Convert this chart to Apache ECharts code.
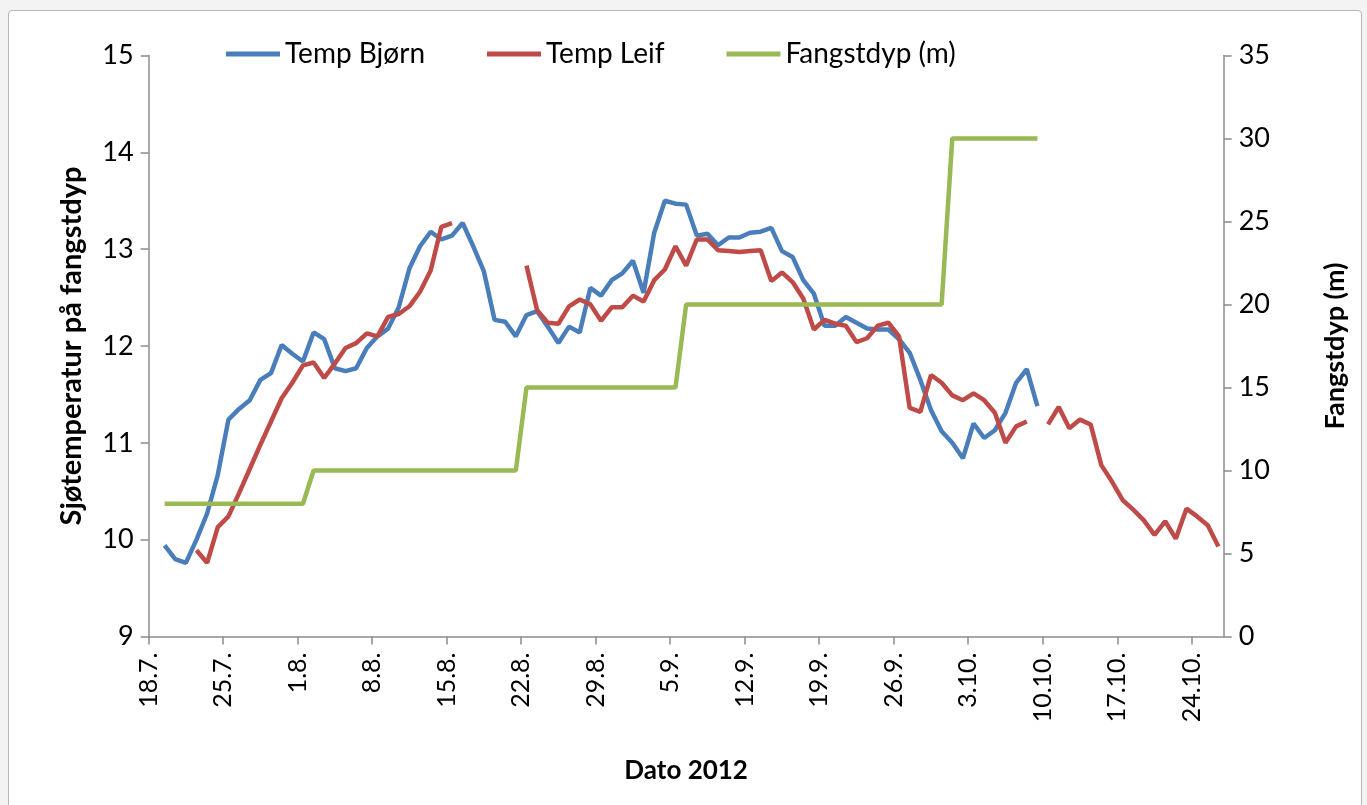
<!DOCTYPE html>
<html>
<head>
<meta charset="utf-8">
<script src="https://cdn.jsdelivr.net/npm/echarts@6/dist/echarts.min.js"></script>
<style>
  html, body { margin: 0; padding: 0; background: #f3f3f3; }
  .frame {
    position: absolute; left: 8px; top: 10px; width: 1352px; height: 810px;
    background: #fff; border: 1px solid #b8b8b8; border-radius: 4px;
  }
  #chart { position: absolute; left: 0; top: 0; width: 1367px; height: 805px; }
</style>
</head>
<body>
<div class="frame"></div>
<div id="chart"></div>
<script>
// day 0 = 18.7.2012, one value per day
var startDate = [2012, 6, 18]
var dayCount = 101
var tickDays = [0, 7, 14, 21, 28, 35, 42, 49, 56, 63, 70, 77, 84, 91, 98]

var tempBjorn = [null,
  9.94, 9.80, 9.76, 10.00, 10.27, 10.67, 11.24, 11.35, 11.44, 11.65,
  11.72, 12.01, 11.92, 11.84, 12.14, 12.07, 11.77, 11.74, 11.77, 11.98,
  12.10, 12.18, 12.40, 12.80, 13.03, 13.18, 13.10, 13.14, 13.27, 13.03,
  12.77, 12.27, 12.25, 12.10, 12.32, 12.36, 12.20, 12.03, 12.20, 12.14,
  12.60, 12.52, 12.68, 12.75, 12.88, 12.55, 13.17, 13.50, 13.47, 13.46,
  13.14, 13.16, 13.04, 13.12, 13.12, 13.17, 13.18, 13.22, 12.98, 12.92,
  12.68, 12.54, 12.21, 12.21, 12.30, 12.24, 12.18, 12.17, 12.17, 12.07,
  11.93, 11.65, 11.34, 11.12, 11.00, 10.84, 11.20, 11.05, 11.13, 11.31,
  11.62, 11.76, 11.38]

var tempLeif = [null, null, null, null,
  9.89, 9.76, 10.13, 10.24, 10.48, 10.73, 10.98, 11.22, 11.46, 11.62, 11.80,
  11.83, 11.67, 11.82, 11.98, 12.03, 12.13, 12.10, 12.30, 12.33, 12.41,
  12.56, 12.78, 13.23, 13.27, null, null, null, null, null, null,
  12.83, 12.37, 12.24, 12.23, 12.41, 12.48, 12.43, 12.26, 12.40, 12.40,
  12.52, 12.46, 12.68, 12.79, 13.03, 12.83, 13.10, 13.10, 12.99, 12.98,
  12.97, 12.98, 12.99, 12.67, 12.76, 12.66, 12.49, 12.17, 12.27, 12.23,
  12.21, 12.04, 12.08, 12.21, 12.24, 12.10, 11.36, 11.32, 11.70, 11.62,
  11.49, 11.44, 11.51, 11.44, 11.31, 11.00, 11.17, 11.22, null, 11.19,
  11.37, 11.15, 11.24, 11.19, 10.77, 10.60, 10.41, 10.31, 10.20, 10.05,
  10.19, 10.01, 10.32, 10.24, 10.15, 9.93]

var fangstdyp = [null,
  8, 8, 8, 8, 8, 8, 8, 8, 8, 8, 8, 8, 8, 8,
  10, 10, 10, 10, 10, 10, 10, 10, 10, 10, 10, 10, 10, 10, 10, 10, 10, 10, 10, 10,
  15, 15, 15, 15, 15, 15, 15, 15, 15, 15, 15, 15, 15, 15, 15,
  20, 20, 20, 20, 20, 20, 20, 20, 20, 20, 20, 20, 20, 20, 20, 20, 20, 20, 20, 20, 20, 20, 20, 20, 20,
  30, 30, 30, 30, 30, 30, 30, 30, 30]

var seriesNames = ['Temp Bjørn', 'Temp Leif', 'Fangstdyp (m)']
var colors = ['#4a7ebb', '#be4b48', '#98b954']

function dayLabel(v) {
  var d = new Date(startDate[0], startDate[1], startDate[2] + v)
  return d.getDate() + '.' + (d.getMonth() + 1) + '.'
}

// each day's point sits in the middle of its day slot
function toPoints(arr) {
  return arr.map(function (v, i) { return [i + 0.5, v] })
}

var font = 'Lato, "Open Sans", sans-serif'
var axisColor = '#8c8c8c'

var chart = echarts.init(document.getElementById('chart'))
chart.setOption({
  animation: false,
  textStyle: { fontFamily: font },
  grid: { left: 148.6, right: 143.3, top: 55.5, bottom: 168.5 },
  legend: {
    left: 221,
    top: 35,
    itemWidth: 54,
    itemHeight: 5,
    itemGap: 62,
    icon: 'rect',
    textStyle: { fontSize: 28, color: '#000', fontFamily: font },
    data: seriesNames
  },
  xAxis: {
    type: 'value',
    min: 0,
    max: dayCount,
    name: 'Dato 2012',
    nameLocation: 'middle',
    nameGap: 121,
    nameTextStyle: { fontSize: 26, fontWeight: 'bold', color: '#000' },
    splitLine: { show: false },
    axisLine: { lineStyle: { color: axisColor, width: 1.5 } },
    axisTick: { length: 8, customValues: tickDays, lineStyle: { color: axisColor, width: 1.5 } },
    axisLabel: {
      customValues: tickDays,
      rotate: 90,
      margin: 16,
      fontSize: 25,
      color: '#000',
      formatter: dayLabel
    }
  },
  yAxis: [{
    type: 'value',
    min: 9,
    max: 15,
    interval: 1,
    name: 'Sjøtemperatur på fangstdyp',
    nameLocation: 'middle',
    nameRotate: 90,
    nameGap: 62,
    nameTextStyle: { fontSize: 29, fontWeight: 'bold', color: '#000' },
    splitLine: { show: false },
    axisLine: { show: true, lineStyle: { color: axisColor, width: 1.5 } },
    axisTick: { show: true, length: 8, lineStyle: { color: axisColor, width: 1.5 } },
    axisLabel: { margin: 15, fontSize: 27, color: '#000' }
  }, {
    type: 'value',
    min: 0,
    max: 35,
    interval: 5,
    position: 'right',
    name: 'Fangstdyp (m)',
    nameLocation: 'middle',
    nameRotate: 90,
    nameGap: 98,
    nameTextStyle: { fontSize: 27, fontWeight: 'bold', color: '#000' },
    splitLine: { show: false },
    axisLine: { show: true, lineStyle: { color: axisColor, width: 1.5 } },
    axisTick: { show: true, length: 8, lineStyle: { color: axisColor, width: 1.5 } },
    axisLabel: { margin: 15, fontSize: 27, color: '#000' }
  }],
  series: [{
    name: seriesNames[0],
    type: 'line',
    yAxisIndex: 0,
    showSymbol: false,
    data: toPoints(tempBjorn),
    lineStyle: { width: 4.5, color: colors[0] },
    itemStyle: { color: colors[0] }
  }, {
    name: seriesNames[1],
    type: 'line',
    yAxisIndex: 0,
    showSymbol: false,
    data: toPoints(tempLeif),
    lineStyle: { width: 4.5, color: colors[1] },
    itemStyle: { color: colors[1] }
  }, {
    name: seriesNames[2],
    type: 'line',
    yAxisIndex: 1,
    showSymbol: false,
    data: toPoints(fangstdyp),
    lineStyle: { width: 4.5, color: colors[2] },
    itemStyle: { color: colors[2] }
  }]
})
</script>
</body>
</html>
